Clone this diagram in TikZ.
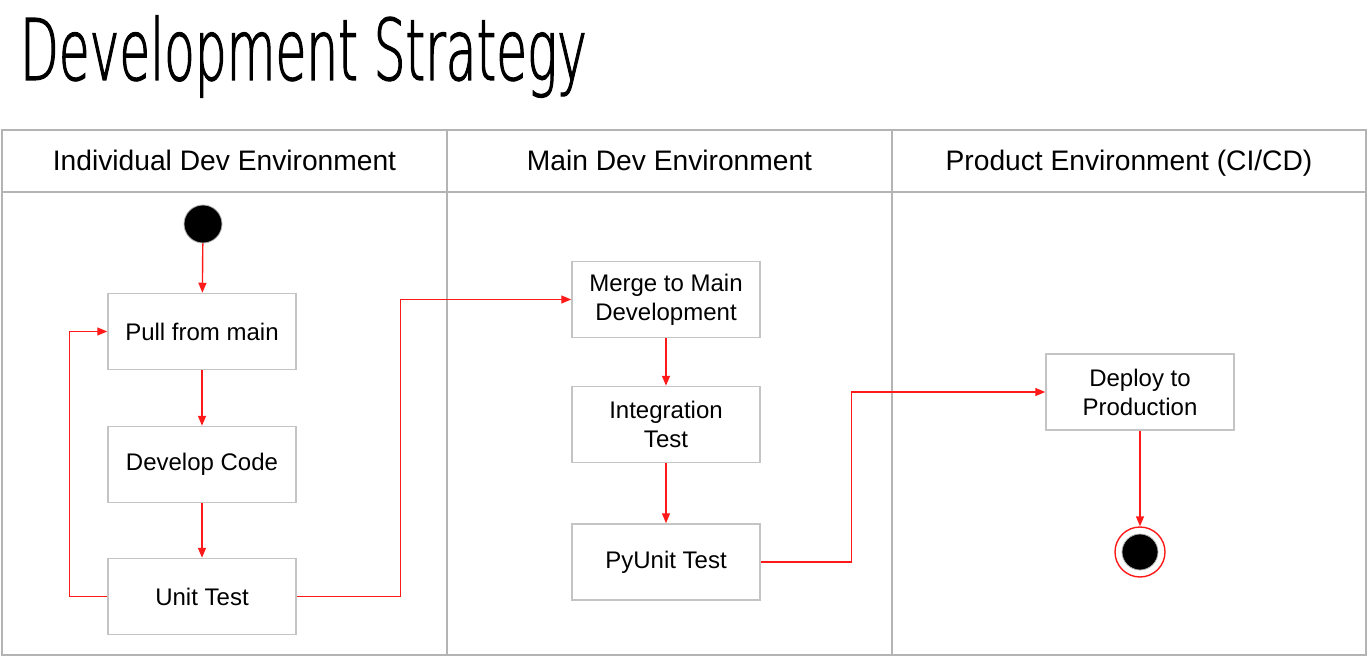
\documentclass[tikz,border=0pt]{standalone}
\usepackage{fontspec}
\setmainfont{Liberation Sans}
\newfontfamily\titlefont[FakeStretch=0.59,FakeBold=1.3]{DejaVu Sans ExtraLight}
\usetikzlibrary{arrows.meta}
\definecolor{lanegray}{HTML}{B4B4B4}
\definecolor{boxgray}{HTML}{C4C4C4}
\definecolor{flowred}{HTML}{FF1A1A}
\begin{document}
\begin{tikzpicture}[x=1pt,y=-1pt,
  lane/.style={draw=lanegray,line width=1.5pt},
  stepbox/.style={draw=boxgray,line width=1.5pt,minimum width=188pt,minimum height=76pt,inner sep=0pt,align=center,font=\fontsize{24}{29}\selectfont},
  lanehead/.style={inner sep=0pt,anchor=base,font=\fontsize{28.2}{32}\selectfont},
  arr/.style={draw=flowred,line width=1.4pt,-{Triangle[length=10pt,width=8pt]}},
  flow/.style={draw=flowred,line width=1.4pt}]
\useasboundingbox (0,0) rectangle (1371,658);
% title
\node[anchor=base west,inner sep=0pt,font=\titlefont\fontsize{85}{100}\selectfont] (title) at (20,80) {Development Strategy};
% swimlanes
\draw[lane] (2,130) rectangle (1366,655);
\draw[lane] (2,192) -- (1366,192);
\draw[lane] (447,130) -- (447,655);
\draw[lane] (892,130) -- (892,655);
\node[lanehead] (h1) at (224.5,171) {Individual Dev Environment};
\node[lanehead] (h2) at (669.5,171) {Main Dev Environment};
\node[lanehead] (h3) at (1129,171) {Product Environment (CI/CD)};
% start
\node[circle,fill=black,draw=gray!60,line width=0.8pt,minimum size=38pt,inner sep=0pt] (start) at (203,224) {};
% boxes
\node[stepbox] (pull) at (202,331.5) {Pull from main};
\node[stepbox] (dev) at (202,464.5) {Develop Code};
\node[stepbox] (unit) at (202,596.5) {Unit Test};
\node[stepbox] (merge) at (666,299.5) {Merge to Main\\Development};
\node[stepbox] (integ) at (666,424.5) {Integration\\Test};
\node[stepbox] (pyunit) at (666,562) {PyUnit Test};
\node[stepbox] (deploy) at (1140,392) {Deploy to\\Production};
% end
\node[circle,draw=flowred,line width=1.4pt,minimum size=50pt,inner sep=0pt] (endc) at (1140,552) {};
\node[circle,fill=black,draw=gray!60,line width=0.8pt,minimum size=36pt,inner sep=0pt] (endin) at (endc) {};
% connectors
\draw[arr] (start) -- (pull);
\draw[arr] (pull) -- (dev);
\draw[arr] (dev) -- (unit);
\draw[arr] (unit.west) -- ++(-38,0) |- (pull.west);
\draw[arr] (unit.east) -- ++(104,0) |- (merge.west);
\draw[arr] (merge) -- (integ);
\draw[arr] (integ) -- (pyunit);
\draw[arr] (pyunit.east) -- ++(91,0) |- (deploy.west);
\draw[arr] (deploy) -- (endc);
\end{tikzpicture}
\end{document}
